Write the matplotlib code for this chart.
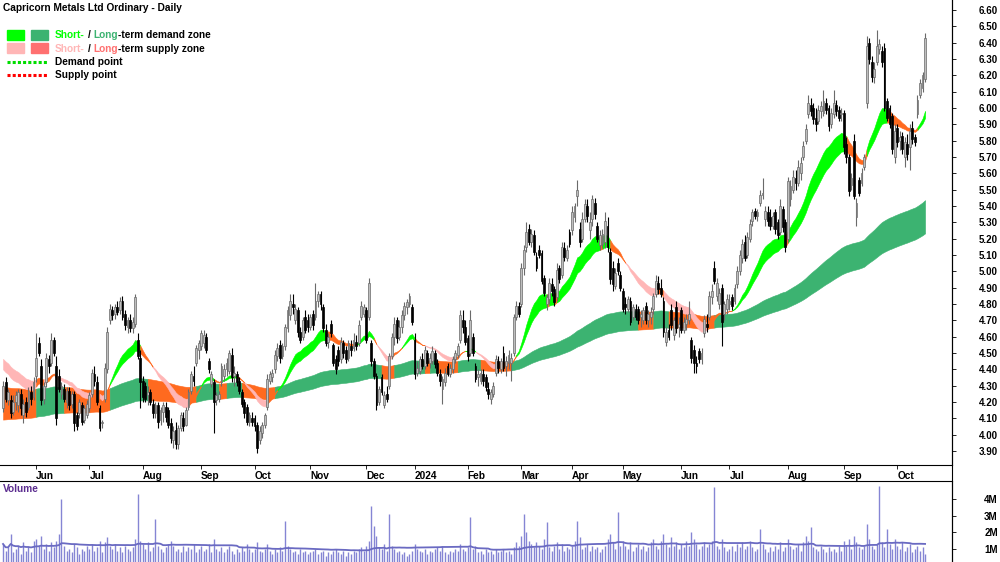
import numpy as np
import pandas as pd
import matplotlib
matplotlib.use("Agg")
import matplotlib.pyplot as plt
from matplotlib.patches import Rectangle

plt.rcParams['font.family'] = ['Liberation Sans', 'DejaVu Sans']

title = "Capricorn Metals Ltd Ordinary - Daily"
start_date = "2023-05-15"
end_date = "2024-10-16"
asx_holidays = ["2023-06-12", "2023-12-25", "2023-12-26", "2024-01-01", "2024-01-26",
                "2024-03-29", "2024-04-01", "2024-04-25", "2024-06-10"]

# daily prices, one row per month
opens = [
    4.16, 4.32, 4.21, 4.21, 4.14, 4.20, 4.18, 4.25, 4.12, 4.20, 4.17, 4.26, 4.23,
    4.36, 4.56, 4.42, 4.22, 4.32, 4.46, 4.44, 4.58, 4.42, 4.36, 4.25, 4.28, 4.20, 4.27, 4.19, 4.25, 4.12, 4.13, 4.18, 4.09, 4.12,
    4.16, 4.25, 4.37, 4.32, 4.16, 4.07, 4.22, 4.40, 4.70, 4.76, 4.74, 4.78, 4.76, 4.82, 4.74, 4.66, 4.70, 4.65, 4.68, 4.58, 4.47,
    4.33, 4.30, 4.24, 4.26, 4.19, 4.13, 4.18, 4.09, 4.14, 4.17, 4.15, 4.07, 3.97, 4.03, 3.94, 4.04, 4.10, 4.06, 4.17, 4.27, 4.36, 4.44, 4.52,
    4.54, 4.56, 4.60, 4.45, 4.31, 4.32, 4.21, 4.22, 4.32, 4.36, 4.40, 4.39, 4.49, 4.36, 4.37, 4.33, 4.26, 4.20, 4.17, 4.08, 4.10,
    4.10, 4.06, 3.97, 4.01, 4.06, 4.17, 4.33, 4.35, 4.40, 4.48, 4.55, 4.48, 4.54, 4.65, 4.73, 4.80, 4.70, 4.76, 4.63, 4.60, 4.72, 4.70,
    4.66, 4.74, 4.72, 4.82, 4.86, 4.78, 4.64, 4.57, 4.68, 4.55, 4.46, 4.52, 4.46, 4.56, 4.52, 4.47, 4.54, 4.53, 4.57, 4.56, 4.72, 4.74,
    4.76, 4.72, 4.56, 4.45, 4.36, 4.20, 4.35, 4.18, 4.25, 4.30, 4.48, 4.60, 4.70, 4.60, 4.66, 4.73, 4.78, 4.80, 4.78,
    4.58, 4.38, 4.39, 4.46, 4.42, 4.50, 4.44, 4.45, 4.50, 4.44, 4.37, 4.28, 4.32, 4.42, 4.37, 4.40, 4.46, 4.49, 4.58, 4.70, 4.66,
    4.59, 4.50, 4.60, 4.42, 4.35, 4.33, 4.37, 4.35, 4.28, 4.22, 4.25, 4.38, 4.45, 4.40, 4.50, 4.42, 4.44, 4.44, 4.50, 4.72, 4.79,
    4.80, 5.02, 5.15, 5.26, 5.18, 5.22, 5.09, 5.13, 5.11, 4.96, 4.80, 4.83, 4.92, 4.89, 4.84, 5.02, 4.98, 5.14, 5.08, 5.24,
    5.25, 5.33, 5.46, 5.26, 5.20, 5.32, 5.40, 5.25, 5.32, 5.42, 5.28, 5.16, 5.17, 5.18, 5.28, 5.12, 5.02, 4.91, 5.05, 4.98,
    4.88, 4.80, 4.77, 4.82, 4.72, 4.77, 4.77, 4.72, 4.70, 4.79, 4.70, 4.72, 4.77, 4.86, 4.93, 4.90, 4.82, 4.57, 4.64, 4.76, 4.61, 4.78, 4.66,
    4.76, 4.64, 4.68, 4.70, 4.58, 4.52, 4.44, 4.51, 4.46, 4.62, 4.68, 4.72, 4.84, 5.02, 4.85, 4.80, 4.90, 4.74, 4.77,
    4.80, 4.84, 4.82, 4.92, 5.00, 5.08, 5.18, 5.10, 5.20, 5.31, 5.37, 5.34, 5.42, 5.47, 5.32, 5.36, 5.33, 5.28, 5.36, 5.30, 5.24, 5.38, 5.30,
    5.20, 5.44, 5.50, 5.57, 5.54, 5.60, 5.70, 5.80, 5.96, 6.02, 6.00, 5.94, 5.92, 5.98, 5.97, 6.03, 6.00, 5.90, 5.96, 6.02, 5.99, 5.96,
    5.97, 5.78, 5.70, 5.53, 5.80, 5.33, 5.56, 5.54, 5.64, 6.03, 6.40, 6.28, 6.19, 6.28, 6.36, 6.35, 6.37, 6.04, 6.00, 5.95, 5.70,
    5.88, 5.80, 5.83, 5.70, 5.78, 5.76, 5.88, 5.82, 5.96, 6.08, 6.12, 6.18,
]
highs = [
    4.33, 4.35, 4.28, 4.24, 4.24, 4.27, 4.28, 4.28, 4.22, 4.23, 4.29, 4.30, 4.35,
    4.62, 4.60, 4.46, 4.32, 4.50, 4.49, 4.62, 4.60, 4.48, 4.40, 4.32, 4.31, 4.29, 4.29, 4.27, 4.27, 4.14, 4.22, 4.20, 4.18, 4.21,
    4.26, 4.40, 4.42, 4.36, 4.18, 4.09, 4.44, 4.66, 4.80, 4.79, 4.80, 4.82, 4.84, 4.85, 4.76, 4.72, 4.74, 4.72, 4.86, 4.62, 4.52,
    4.36, 4.32, 4.30, 4.28, 4.22, 4.20, 4.20, 4.17, 4.20, 4.20, 4.17, 4.10, 4.05, 4.08, 4.06, 4.14, 4.14, 4.17, 4.28, 4.39, 4.42, 4.55, 4.58,
    4.64, 4.64, 4.62, 4.47, 4.39, 4.34, 4.26, 4.27, 4.44, 4.43, 4.47, 4.52, 4.53, 4.42, 4.39, 4.35, 4.28, 4.22, 4.19, 4.14, 4.14,
    4.12, 4.08, 4.05, 4.08, 4.13, 4.37, 4.39, 4.40, 4.52, 4.56, 4.58, 4.56, 4.68, 4.79, 4.86, 4.86, 4.80, 4.78, 4.66, 4.72, 4.76, 4.74,
    4.74, 4.76, 4.93, 4.88, 4.88, 4.80, 4.68, 4.62, 4.70, 4.56, 4.49, 4.54, 4.60, 4.58, 4.54, 4.58, 4.58, 4.62, 4.61, 4.70, 4.82, 4.80,
    4.78, 4.96, 4.58, 4.47, 4.38, 4.30, 4.37, 4.27, 4.30, 4.50, 4.62, 4.72, 4.72, 4.70, 4.76, 4.81, 4.83, 4.87, 4.80,
    4.62, 4.45, 4.48, 4.50, 4.54, 4.52, 4.50, 4.54, 4.52, 4.46, 4.40, 4.36, 4.41, 4.44, 4.43, 4.48, 4.52, 4.56, 4.76, 4.76, 4.70,
    4.61, 4.76, 4.62, 4.44, 4.40, 4.40, 4.40, 4.37, 4.32, 4.28, 4.32, 4.49, 4.48, 4.47, 4.54, 4.48, 4.52, 4.50, 4.74, 4.82, 4.81,
    5.05, 5.16, 5.30, 5.29, 5.26, 5.25, 5.12, 5.16, 5.13, 4.98, 4.86, 4.96, 4.96, 4.91, 5.05, 5.04, 5.18, 5.18, 5.16, 5.26,
    5.40, 5.42, 5.56, 5.30, 5.36, 5.44, 5.44, 5.36, 5.47, 5.45, 5.30, 5.25, 5.26, 5.36, 5.33, 5.14, 5.06, 5.02, 5.08, 5.00,
    4.90, 4.84, 4.85, 4.84, 4.80, 4.80, 4.79, 4.76, 4.78, 4.81, 4.76, 4.78, 4.87, 4.98, 4.97, 4.95, 4.84, 4.66, 4.68, 4.80, 4.72, 4.82, 4.72,
    4.78, 4.72, 4.74, 4.82, 4.60, 4.55, 4.48, 4.53, 4.53, 4.73, 4.74, 4.88, 4.92, 5.06, 4.96, 4.90, 4.92, 4.82, 4.86,
    4.86, 4.86, 4.92, 5.03, 5.13, 5.20, 5.22, 5.24, 5.32, 5.38, 5.39, 5.38, 5.50, 5.57, 5.40, 5.40, 5.38, 5.36, 5.38, 5.32, 5.44, 5.40, 5.32,
    5.58, 5.56, 5.62, 5.62, 5.68, 5.70, 5.80, 5.90, 6.08, 6.06, 6.03, 6.00, 6.02, 6.04, 6.11, 6.06, 6.02, 6.00, 6.11, 6.05, 6.01, 6.00,
    5.99, 5.82, 5.72, 5.60, 5.84, 5.45, 5.58, 5.63, 5.72, 6.44, 6.43, 6.32, 6.28, 6.48, 6.42, 6.38, 6.40, 6.06, 6.02, 5.97, 5.90,
    5.90, 5.86, 5.85, 5.82, 5.84, 5.90, 5.92, 5.84, 6.08, 6.18, 6.22, 6.46,
]
lows = [
    4.14, 4.20, 4.18, 4.10, 4.12, 4.15, 4.14, 4.12, 4.07, 4.11, 4.15, 4.18, 4.21,
    4.32, 4.48, 4.18, 4.19, 4.29, 4.38, 4.42, 4.48, 4.06, 4.26, 4.22, 4.20, 4.16, 4.15, 4.16, 4.02, 4.03, 4.10, 4.06, 4.07, 4.10,
    4.14, 4.23, 4.30, 4.18, 4.02, 4.04, 4.20, 4.38, 4.68, 4.70, 4.71, 4.73, 4.74, 4.70, 4.64, 4.62, 4.63, 4.62, 4.66, 4.46, 4.16,
    4.20, 4.20, 4.18, 4.18, 4.10, 4.10, 4.04, 4.06, 4.08, 4.08, 4.04, 3.95, 3.92, 3.91, 3.91, 4.02, 4.02, 4.05, 4.15, 4.25, 4.30, 4.42, 4.46,
    4.52, 4.53, 4.50, 4.38, 4.29, 4.01, 4.18, 4.20, 4.30, 4.33, 4.36, 4.37, 4.32, 4.30, 4.30, 4.25, 4.17, 4.10, 4.06, 4.05, 4.05,
    4.02, 3.89, 3.94, 3.98, 4.04, 4.15, 4.31, 4.32, 4.38, 4.45, 4.44, 4.46, 4.52, 4.63, 4.70, 4.74, 4.68, 4.60, 4.56, 4.58, 4.62, 4.63,
    4.64, 4.64, 4.70, 4.78, 4.76, 4.63, 4.54, 4.53, 4.60, 4.42, 4.37, 4.42, 4.44, 4.47, 4.44, 4.45, 4.48, 4.51, 4.52, 4.54, 4.70, 4.72,
    4.56, 4.70, 4.42, 4.34, 4.15, 4.18, 4.24, 4.16, 4.20, 4.28, 4.46, 4.55, 4.56, 4.58, 4.62, 4.70, 4.74, 4.78, 4.67,
    4.34, 4.36, 4.37, 4.40, 4.40, 4.42, 4.41, 4.43, 4.41, 4.36, 4.30, 4.19, 4.30, 4.36, 4.35, 4.38, 4.44, 4.47, 4.56, 4.62, 4.55,
    4.45, 4.48, 4.48, 4.32, 4.30, 4.31, 4.30, 4.27, 4.22, 4.19, 4.23, 4.36, 4.38, 4.38, 4.39, 4.36, 4.40, 4.33, 4.48, 4.70, 4.72,
    4.78, 4.98, 5.12, 5.16, 5.15, 5.10, 5.00, 5.08, 4.92, 4.85, 4.76, 4.80, 4.85, 4.79, 4.82, 4.93, 4.96, 5.06, 5.06, 5.15,
    5.22, 5.30, 5.40, 5.15, 5.18, 5.30, 5.30, 5.20, 5.28, 5.32, 5.18, 5.13, 5.14, 5.14, 5.12, 4.92, 4.88, 4.89, 4.98, 4.88,
    4.75, 4.74, 4.75, 4.67, 4.70, 4.70, 4.68, 4.66, 4.68, 4.68, 4.66, 4.68, 4.74, 4.84, 4.86, 4.84, 4.60, 4.54, 4.58, 4.64, 4.58, 4.62, 4.60,
    4.62, 4.62, 4.64, 4.68, 4.44, 4.38, 4.38, 4.44, 4.43, 4.60, 4.63, 4.70, 4.80, 4.92, 4.82, 4.77, 4.54, 4.70, 4.74,
    4.76, 4.76, 4.80, 4.90, 4.98, 5.05, 5.06, 5.08, 5.18, 5.28, 5.32, 5.31, 5.40, 5.44, 5.28, 5.28, 5.25, 5.26, 5.23, 5.20, 5.22, 5.24, 5.12,
    5.18, 5.40, 5.48, 5.50, 5.52, 5.56, 5.68, 5.78, 5.94, 5.95, 5.90, 5.86, 5.90, 5.94, 5.95, 5.96, 5.86, 5.88, 5.94, 5.95, 5.92, 5.92,
    5.72, 5.66, 5.46, 5.50, 5.44, 5.28, 5.46, 5.52, 5.62, 6.00, 6.27, 6.16, 6.15, 6.26, 6.33, 6.25, 5.98, 5.92, 5.88, 5.72, 5.66,
    5.76, 5.74, 5.72, 5.64, 5.68, 5.62, 5.78, 5.77, 5.94, 6.06, 6.10, 6.16,
]
closes = [
    4.30, 4.22, 4.26, 4.13, 4.20, 4.24, 4.26, 4.16, 4.19, 4.14, 4.27, 4.22, 4.32,
    4.47, 4.50, 4.21, 4.30, 4.47, 4.42, 4.58, 4.50, 4.10, 4.28, 4.30, 4.22, 4.27, 4.18, 4.25, 4.07, 4.05, 4.20, 4.08, 4.16, 4.19,
    4.24, 4.38, 4.33, 4.20, 4.04, 4.07, 4.41, 4.63, 4.77, 4.73, 4.78, 4.75, 4.82, 4.72, 4.67, 4.70, 4.65, 4.69, 4.84, 4.48, 4.32,
    4.23, 4.22, 4.26, 4.20, 4.13, 4.18, 4.08, 4.15, 4.18, 4.11, 4.06, 3.98, 4.02, 3.94, 4.04, 4.12, 4.05, 4.15, 4.26, 4.37, 4.33, 4.53, 4.56,
    4.62, 4.61, 4.52, 4.40, 4.37, 4.20, 4.24, 4.25, 4.42, 4.40, 4.44, 4.50, 4.35, 4.38, 4.32, 4.27, 4.19, 4.13, 4.08, 4.12, 4.08,
    4.05, 3.92, 4.02, 4.06, 4.12, 4.34, 4.37, 4.38, 4.49, 4.53, 4.47, 4.54, 4.66, 4.76, 4.82, 4.78, 4.77, 4.63, 4.58, 4.70, 4.64, 4.66,
    4.72, 4.67, 4.82, 4.86, 4.80, 4.65, 4.56, 4.60, 4.62, 4.44, 4.40, 4.45, 4.57, 4.50, 4.46, 4.56, 4.52, 4.58, 4.54, 4.67, 4.79, 4.78,
    4.58, 4.93, 4.45, 4.36, 4.18, 4.28, 4.26, 4.24, 4.22, 4.48, 4.60, 4.68, 4.59, 4.66, 4.73, 4.79, 4.81, 4.85, 4.69,
    4.37, 4.41, 4.46, 4.42, 4.52, 4.44, 4.47, 4.51, 4.43, 4.38, 4.33, 4.34, 4.38, 4.37, 4.41, 4.46, 4.50, 4.54, 4.73, 4.66, 4.57,
    4.48, 4.70, 4.50, 4.34, 4.37, 4.38, 4.33, 4.29, 4.25, 4.26, 4.30, 4.46, 4.41, 4.45, 4.41, 4.45, 4.49, 4.47, 4.72, 4.79, 4.74,
    5.02, 5.13, 5.24, 5.18, 5.23, 5.12, 5.02, 5.10, 4.94, 4.87, 4.84, 4.93, 4.88, 4.81, 5.01, 4.95, 5.15, 5.09, 5.13, 5.17,
    5.36, 5.40, 5.50, 5.18, 5.32, 5.41, 5.34, 5.30, 5.44, 5.35, 5.20, 5.22, 5.23, 5.31, 5.15, 4.95, 4.92, 4.99, 5.00, 4.90,
    4.77, 4.78, 4.83, 4.69, 4.78, 4.72, 4.70, 4.74, 4.76, 4.70, 4.74, 4.75, 4.85, 4.94, 4.89, 4.86, 4.63, 4.63, 4.60, 4.67, 4.70, 4.65, 4.68,
    4.64, 4.69, 4.71, 4.74, 4.47, 4.44, 4.42, 4.46, 4.50, 4.71, 4.66, 4.85, 4.88, 4.94, 4.93, 4.87, 4.69, 4.80, 4.83,
    4.82, 4.79, 4.90, 5.00, 5.10, 5.17, 5.08, 5.21, 5.29, 5.36, 5.34, 5.36, 5.47, 5.48, 5.37, 5.31, 5.28, 5.34, 5.26, 5.22, 5.40, 5.27, 5.15,
    5.55, 5.52, 5.58, 5.54, 5.64, 5.66, 5.77, 5.87, 6.03, 5.98, 5.93, 5.90, 5.99, 6.01, 6.04, 5.99, 5.89, 5.97, 6.03, 5.98, 5.94, 5.97,
    5.76, 5.70, 5.49, 5.57, 5.46, 5.42, 5.48, 5.60, 5.70, 6.38, 6.30, 6.19, 6.24, 6.38, 6.39, 6.28, 6.00, 5.94, 5.90, 5.75, 5.86,
    5.79, 5.82, 5.75, 5.79, 5.72, 5.86, 5.81, 5.79, 6.05, 6.15, 6.20, 6.43,
]
# daily volume, millions of shares
volumes = [
    1.3, 0.9, 1.1, 1.9, 0.8, 1.0, 1.2, 0.7, 1.4, 0.9, 1.1, 0.8, 1.5,
    1.6, 1.2, 1.8, 1.0, 1.3, 0.9, 1.4, 1.1, 1.5, 1.9, 4.0, 1.2, 0.9, 1.0, 0.8, 1.3, 1.1, 0.7, 1.0, 0.9, 1.2,
    1.0, 1.3, 0.9, 1.1, 1.5, 0.8, 1.4, 1.7, 1.2, 1.0, 1.3, 0.9, 1.1, 0.8, 1.2, 1.0, 0.9, 1.1, 1.6, 4.3, 1.5,
    1.3, 1.0, 1.4, 0.9, 1.1, 2.8, 1.2, 1.0, 0.8, 1.1, 1.3, 1.5, 1.2, 0.9, 1.0, 0.8, 1.2, 0.9, 1.1, 1.0, 1.3, 0.8, 1.0,
    1.2, 0.9, 1.0, 1.3, 0.8, 1.6, 1.0, 0.9, 1.1, 0.8, 1.0, 1.2, 0.9, 0.7, 1.0, 0.8, 1.1, 0.9, 1.3, 1.0, 0.8,
    1.0, 1.4, 0.9, 0.8, 1.0, 1.3, 0.9, 0.7, 1.0, 0.8, 1.1, 0.9, 2.7, 1.2, 1.0, 0.8, 0.9, 0.7, 1.0, 0.8, 0.9, 0.7,
    0.8, 0.9, 1.0, 0.7, 0.8, 0.9, 0.6, 0.8, 0.7, 0.9, 1.0, 0.8, 0.7, 0.9, 0.6, 0.8, 0.7, 0.9, 0.8, 1.0, 1.1, 0.9,
    1.2, 1.5, 3.6, 2.4, 1.8, 1.1, 1.0, 1.3, 0.9, 3.1, 1.2, 1.0, 0.8, 0.9, 0.7, 0.8, 0.6, 0.7, 0.9,
    1.3, 1.0, 0.9, 0.8, 1.0, 0.7, 0.9, 0.8, 1.0, 1.1, 0.9, 1.2, 0.8, 0.7, 0.9, 0.8, 1.0, 0.9, 1.3, 1.0, 0.9,
    1.1, 2.9, 1.0, 1.2, 0.8, 0.9, 0.7, 1.0, 0.8, 0.9, 0.7, 1.0, 0.8, 0.9, 1.0, 0.8, 0.9, 0.7, 1.1, 1.4, 1.2,
    1.8, 3.1, 2.0, 1.5, 1.3, 1.1, 1.4, 1.2, 1.0, 1.6, 2.6, 1.1, 0.9, 1.2, 1.4, 1.0, 1.3, 0.9, 1.1, 1.0,
    1.2, 1.5, 2.7, 1.7, 1.0, 1.1, 1.3, 0.9, 1.2, 1.0, 1.1, 0.8, 1.0, 1.2, 1.6, 1.9, 1.4, 1.0, 3.2, 1.2,
    1.5, 1.2, 1.0, 1.4, 0.9, 1.1, 1.3, 1.0, 1.2, 0.9, 1.1, 1.4, 1.6, 1.2, 1.0, 1.5, 1.9, 1.3, 1.1, 1.7, 1.2, 1.4, 1.0,
    1.3, 1.1, 1.5, 1.2, 2.0, 1.6, 1.3, 1.0, 1.2, 1.4, 1.1, 1.3, 1.5, 4.7, 1.2, 1.0, 1.6, 1.1, 0.9,
    1.0, 1.2, 0.9, 1.3, 1.1, 1.4, 1.0, 1.2, 1.5, 1.1, 0.9, 1.0, 2.2, 1.3, 1.0, 0.8, 1.1, 0.9, 1.2, 1.0, 1.4, 0.9, 1.1,
    1.6, 1.2, 1.0, 1.1, 1.3, 0.9, 1.4, 1.8, 1.5, 2.3, 1.1, 1.0, 0.9, 1.2, 1.0, 0.8, 1.1, 0.9, 1.0, 0.8, 1.2, 0.9,
    1.5, 1.2, 1.6, 1.0, 1.8, 1.4, 1.1, 1.0, 1.2, 2.5, 1.6, 1.2, 1.0, 1.3, 4.8, 1.4, 1.1, 2.2, 1.3, 1.0, 1.6,
    1.2, 1.0, 1.4, 0.9, 1.1, 1.3, 0.8, 1.0, 1.2, 0.9, 1.1, 0.7,
]

# zone averages (EMA periods) and their levels on the first day
short_periods = (20, 30)
long_periods = (140, 210)
short_start = (4.41, 4.475)
long_start = (4.29, 4.09)

days = pd.bdate_range(start_date, end_date)
days = days[~days.isin(pd.to_datetime(asx_holidays))]
n = len(days)
assert n == len(opens) == len(highs) == len(lows) == len(closes) == len(volumes), \
    (n, len(opens), len(highs), len(lows), len(closes), len(volumes))

o = np.array(opens)
h = np.array(highs)
l = np.array(lows)
c = np.array(closes)
v = np.array(volumes)
x = np.arange(n)


def ema(values, period, seed):
    a = 2.0 / (period + 1)
    out = np.empty(len(values))
    prev = seed
    for i, val in enumerate(values):
        prev = prev + a * (val - prev)
        out[i] = prev
    return out


def zone_states(fast, slow, lookback):
    # 0 = demand, 1 = contested (orange), 2 = supply
    before = np.concatenate([np.full(lookback, fast[0]), fast[:-lookback]])
    rising = fast > before
    up = fast > slow
    return np.where(up & rising, 0, np.where(~up & ~rising, 2, 1))


def fill_zone(ax, a, b, states, colors, z):
    lo = np.minimum(a, b)
    hi = np.maximum(a, b)
    start = 0
    for i in range(1, n):
        if states[i] != states[start] or i == n - 1:
            col = colors[states[start]]
            ax.fill_between(x[start:i + 1], lo[start:i + 1], hi[start:i + 1],
                            facecolor=col, edgecolor=col, lw=0.4, zorder=z)
            start = i


s_fast = ema(c, short_periods[0], short_start[0])
s_slow = ema(c, short_periods[1], short_start[1])
l_fast = ema(c, long_periods[0], long_start[0])
l_slow = ema(c, long_periods[1], long_start[1])

GREEN_S = '#00FF00'
GREEN_L = '#3CB371'
PINK_S = '#FFB6B6'
RED_L = '#FF7070'
ORANGE = '#FF6A1F'

fig = plt.figure(figsize=(10, 5.62), dpi=100)
ax = fig.add_axes([0, 1 - 465 / 562, 0.952, 465 / 562])
axv = fig.add_axes([0, 0, 0.952, 81 / 562])

fill_zone(ax, l_fast, l_slow, zone_states(l_fast, l_slow, 5), [GREEN_L, ORANGE, RED_L], 1)
fill_zone(ax, s_fast, s_slow, zone_states(s_fast, s_slow, 2), [GREEN_S, ORANGE, PINK_S], 2)

# candles
up = c >= o
edge = np.where(up, '#6A6A6A', 'black')
ax.vlines(x, l, h, colors=edge, lw=0.8, zorder=3)
ax.bar(x, np.maximum(np.abs(c - o), 0.008), bottom=np.minimum(o, c), width=0.72,
       color=np.where(up, '#BEBEBE', 'black'), edgecolor=edge, linewidth=0.5, zorder=4)

ax.set_xlim(-1.2, 373.6)
ax.set_ylim(3.814, 6.661)
ax.spines['top'].set_visible(False)
ax.spines['left'].set_visible(False)
ax.yaxis.tick_right()
ticks = np.round(np.arange(3.9, 6.601, 0.1), 2)
ax.set_yticks(ticks)
ax.set_yticklabels([f"{t:.2f}" for t in ticks], fontsize=7, fontweight='bold', ha='right')
ax.tick_params(axis='y', length=3, width=0.6, pad=30, colors='black')

month_pos = [i for i in range(n) if i == 0 or days[i].month != days[i - 1].month][1:]
month_lab = [str(days[i].year) if days[i].month == 1 else days[i].strftime('%b') for i in month_pos]
ax.set_xticks(month_pos)
ax.set_xticklabels(month_lab, fontsize=7.3, fontweight='bold', ha='left')
ax.tick_params(axis='x', length=3, width=0.6, pad=1.5)

# volume panel
axv.vlines(x, 0, v, colors='#8585D4', lw=1.0)
axv.plot(x, pd.Series(v).rolling(40, min_periods=1).mean(), color='#6A6AC2', lw=1.3)
axv.set_xlim(-1.2, 373.6)
axv.set_ylim(0.22, 5.07)
axv.set_xticks([])
axv.spines['left'].set_visible(False)
axv.spines['bottom'].set_visible(False)
axv.yaxis.tick_right()
axv.set_yticks([1, 2, 3, 4])
axv.set_yticklabels(['1M', '2M', '3M', '4M'], fontsize=7, fontweight='bold', ha='right')
axv.tick_params(axis='y', length=3, width=0.6, pad=30)
for a in (ax, axv):
    for s in a.spines.values():
        s.set_linewidth(0.8)

# overlay in pixel units for title, legend and frame lines
lax = fig.add_axes([0, 0, 1, 1], zorder=10)
lax.set_xlim(0, 1000)
lax.set_ylim(562, 0)
lax.axis('off')
lax.plot([952, 952], [0, 562], color='black', lw=0.8)
lax.text(3, 8, title, fontsize=7.3, fontweight='bold', va='center', ha='left')
lax.text(3, 489, 'Volume', fontsize=7.3, fontweight='bold', color='#5B2C8F', va='center')

renderer = fig.canvas.get_renderer()


def write_parts(x0, y, parts):
    for s, col, gap in parts:
        t = lax.text(x0, y, s, color=col, fontsize=7.3, fontweight='bold', va='center', ha='left')
        x0 += t.get_window_extent(renderer).width + gap


lax.add_patch(Rectangle((7, 30), 17, 10, color=GREEN_S))
lax.add_patch(Rectangle((31, 30), 17, 10, color=GREEN_L))
lax.add_patch(Rectangle((7, 43), 17, 10, color=PINK_S))
lax.add_patch(Rectangle((31, 43), 17, 10, color=RED_L))
write_parts(55, 35, [("Short-", GREEN_S, 3), ("/", 'black', 3), ("Long", GREEN_L, 0),
                     ("-term demand zone", 'black', 0)])
write_parts(55, 48.5, [("Short-", PINK_S, 3), ("/", 'black', 3), ("Long", RED_L, 0),
                       ("-term supply zone", 'black', 0)])
lax.plot([7, 47], [62, 62], color='#00DD00', lw=2.2, linestyle=(0, (1, 0.7)))
lax.plot([7, 47], [74.5, 74.5], color='#FF0000', lw=2.2, linestyle=(0, (1, 0.7)))
lax.text(55, 62, "Demand point", fontsize=7.3, fontweight='bold', va='center')
lax.text(55, 74.5, "Supply point", fontsize=7.3, fontweight='bold', va='center')

fig.savefig('out.png', dpi=100)
